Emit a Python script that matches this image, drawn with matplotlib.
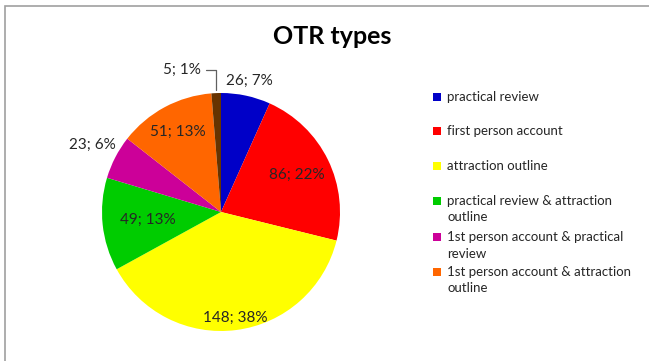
import numpy as np
import matplotlib
matplotlib.use("Agg")
import matplotlib.pyplot as plt
from matplotlib.patches import Rectangle

plt.rcParams['font.family'] = ['Lato', 'DejaVu Sans']

# données du graphique
categories = ["practical review", "first person account", "attraction outline",
              "practical review & attraction\noutline",
              "1st person account & practical\nreview",
              "1st person account & attraction\noutline",
              "other"]
values = [26, 86, 148, 49, 23, 51, 5]
colors = ["#0000C8", "#FF0000", "#FFFF00", "#00CC00", "#CC0099", "#FF6600", "#663300"]
# distance du label au centre (en rayons)
label_r = [1.13, 0.71, 0.9, 0.62, 1.22, 0.76, 1.2]

fig = plt.figure(figsize=(6.49, 3.61), dpi=100)
W, H = 649, 361

# cadre gris du graphique
fig.patches.append(Rectangle((5 / W, -0.1), 1.2, (H - 6) / H + 0.1,
                             transform=fig.transFigure, fill=False,
                             edgecolor="#A0A0A0", linewidth=1.2))

fig.text(332 / W, 1 - 37 / H, "OTR types", ha="center", va="center",
         fontsize=18, fontweight="bold", color="black")

cx, cy, r = 221, 212, 119
ax = fig.add_axes([(cx - r) / W, (H - cy - r) / H, 2 * r / W, 2 * r / H])
wedges, _ = ax.pie(values, colors=colors, startangle=90, counterclock=False,
                   radius=1.0, wedgeprops=dict(linewidth=0))
ax.set_xlim(-1, 1)
ax.set_ylim(-1, 1)
ax.set_aspect("equal")

total = sum(values)
for w, v, lr in zip(wedges, values, label_r):
    ang = np.deg2rad((w.theta1 + w.theta2) / 2)
    txt = f"{v}; {round(100 * v / total)}%"
    x, y = lr * np.cos(ang), lr * np.sin(ang)
    if v == 5:
        # petit secteur : label déplacé avec trait de rappel
        xe = np.cos(ang)
        ax.annotate(txt, xy=(xe, 1.0), xytext=(-0.17, 1.19),
                    ha="right", va="center", fontsize=11, color="#262626",
                    annotation_clip=False,
                    arrowprops=dict(arrowstyle="-", color="#606060", lw=0.9,
                                    connectionstyle="angle,angleA=0,angleB=90,rad=0"))
        continue
    ax.text(x, y, txt, ha="center", va="center", fontsize=11, color="#262626")

# légende
leg_y = [97, 131, 166, 201, 237, 272]
for i, (lab, c) in enumerate(zip(categories[:6], colors[:6])):
    y = leg_y[i]
    fig.patches.append(Rectangle((433 / W, 1 - (y + 4) / H), 8 / W, 8 / H,
                                 transform=fig.transFigure, facecolor=c,
                                 edgecolor="none"))
    fig.text(447 / W, 1 - (y - 6) / H, lab, ha="left", va="top",
             fontsize=9.5, color="#262626", linespacing=1.45)

fig.savefig("out.png", dpi=100)
